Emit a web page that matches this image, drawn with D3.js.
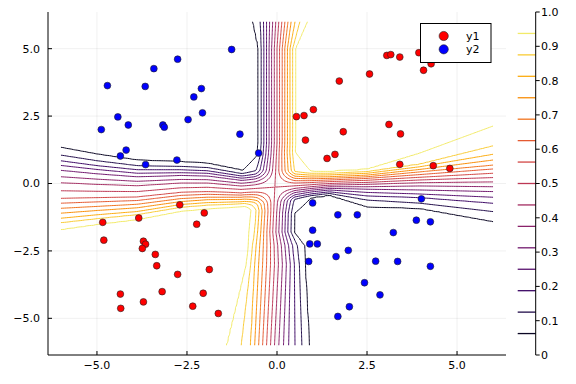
<!DOCTYPE html>
<html>
<head>
<meta charset="utf-8">
<script src="https://cdn.jsdelivr.net/npm/d3@7"></script>
<style>
  html, body { margin: 0; padding: 0; background: #fff; }
  svg { display: block; font-family: "DejaVu Sans", sans-serif; }
</style>
</head>
<body>
<svg id="chart" width="576" height="384"></svg>
<script>
// ---------------- data ----------------
const xTicks = [-5, -2.5, 0, 2.5, 5];
const yTicks = [-5, -2.5, 0, 2.5, 5];
const xTickLabels = ["\u22125.0", "\u22122.5", "0.0", "2.5", "5.0"];
const yTickLabels = ["\u22125.0", "\u22122.5", "0.0", "2.5", "5.0"];
const cbTicks = [0, 0.1, 0.2, 0.3, 0.4, 0.5, 0.6, 0.7, 0.8, 0.9, 1.0];
const cbTickLabels = ["0", "0.1", "0.2", "0.3", "0.4", "0.5", "0.6", "0.7", "0.8", "0.9", "1.0"];
const contourLevels = [1,2,3,4,5,6,7,8,9,10,11,12,13,14,15].map(k => k / 16);
const seriesNames = ["y1", "y2"];

const y1x = [3.05,3.16,3.41,3.94,4.28,4.07,2.57,1.73,1.01,0.54,0.75,3.11,0.79,1.84,3.43,1.39,1.61,3.41,4.34,4.80,
             -2.70,-4.84,-3.84,-2.02,-2.23,-4.81,-3.71,-3.65,-3.74,-3.38,-3.34,-1.88,-2.76,-3.19,-4.35,-2.05,-3.71,-4.34,-2.34,-1.63];
const y1y = [4.75,4.78,4.69,4.85,4.44,4.20,4.06,3.80,2.74,2.48,2.52,2.19,1.61,1.92,1.84,0.93,1.08,0.71,0.66,0.56,
             -0.79,-1.44,-1.28,-1.09,-1.51,-2.10,-2.14,-2.25,-2.41,-2.63,-3.05,-3.19,-3.37,-4.01,-4.10,-4.07,-4.39,-4.63,-4.55,-4.82];
const y2x = [-1.26,-2.76,-3.42,-4.71,-3.66,-2.10,-2.31,-4.42,-2.07,-2.47,-4.88,-4.13,-3.17,-3.13,-1.03,-4.19,-4.35,-0.51,-3.65,-2.78,
             0.99,4.01,1.69,2.23,3.87,4.26,0.99,3.23,0.91,1.12,1.98,1.64,0.88,2.74,3.35,4.26,2.43,2.86,2.01,1.69];
const y2y = [4.97,4.61,4.26,3.63,3.60,3.52,3.21,2.47,2.62,2.37,2.00,2.17,2.17,2.09,1.83,1.24,1.02,1.13,0.70,0.87,
             -0.72,-0.57,-1.16,-1.16,-1.36,-1.42,-1.73,-1.82,-2.24,-2.24,-2.48,-2.71,-2.89,-2.88,-2.89,-3.07,-3.68,-4.13,-4.57,-4.93];

// Contour field: positions of the 15 contour levels (k/16)
// across the vertical band (x positions, at given y) ...
const bandVY = [-6, -3, -2.3, -1.8, 1.5, 5.0, 6];
const bandVX = [
  [-1.41,-0.99,-0.73,-0.62,-0.51,-0.40,-0.29,-0.18,-0.07,0.05,0.18,0.32,0.50,0.69,0.90],
  [-0.86,-0.73,-0.62,-0.51,-0.40,-0.29,-0.18,-0.07,0.04,0.15,0.26,0.37,0.48,0.62,0.78],
  [-0.80,-0.68,-0.58,-0.48,-0.38,-0.28,-0.18,-0.08,0.02,0.12,0.22,0.32,0.43,0.56,0.76],
  [-0.79,-0.62,-0.54,-0.45,-0.37,-0.28,-0.20,-0.12,-0.03,0.05,0.14,0.22,0.30,0.39,0.47],
  [-0.51,-0.44,-0.365,-0.29,-0.22,-0.15,-0.075,0.0,0.07,0.145,0.215,0.29,0.36,0.435,0.505],
  [-0.51,-0.44,-0.365,-0.29,-0.22,-0.15,-0.075,0.0,0.07,0.145,0.215,0.29,0.36,0.435,0.505],
  [-0.67,-0.46,-0.375,-0.29,-0.205,-0.12,-0.035,0.05,0.135,0.22,0.305,0.39,0.50,0.63,0.84]
];
// width of the soft outer edge below the first / above the last level
const bandVTail = [[0.08,0.5],[0.08,0.5],[0.08,0.5],[0.08,0.5],[0.47,0.42],[0.47,0.42],[0.47,0.42]];
// ... and across the horizontal band (y positions, at given x)
const bandHX = [-6, -4.99, -3.88, -2.67, -1.93, -1.0, 1.46, 2.5, 3.96, 6];
const bandHY = [
  [-1.72,-1.45,-1.29,-1.10,-0.92,-0.73,-0.55,-0.27,0.03,0.25,0.49,0.67,0.84,1.05,1.34],
  [-1.53,-1.30,-1.16,-1.00,-0.85,-0.68,-0.53,-0.29,-0.03,0.16,0.36,0.52,0.66,0.84,1.09],
  [-1.35,-1.15,-1.04,-0.90,-0.77,-0.63,-0.50,-0.30,-0.08,0.08,0.25,0.38,0.51,0.66,0.87],
  [-1.04,-0.88,-0.78,-0.67,-0.56,-0.44,-0.33,-0.16,0.02,0.15,0.30,0.40,0.51,0.63,0.81],
  [-0.95,-0.80,-0.71,-0.60,-0.51,-0.40,-0.30,-0.14,0.02,0.14,0.28,0.38,0.47,0.59,0.75],
  [-0.87,-0.75,-0.68,-0.59,-0.51,-0.43,-0.35,-0.22,-0.09,0.01,0.12,0.20,0.28,0.37,0.50],
  [-0.43,-0.37,-0.31,-0.24,-0.18,-0.12,-0.06,0.00,0.07,0.13,0.19,0.25,0.32,0.38,0.44],
  [-0.86,-0.61,-0.46,-0.33,-0.21,-0.12,-0.03,0.04,0.12,0.19,0.25,0.31,0.38,0.44,0.52],
  [-0.92,-0.73,-0.52,-0.39,-0.24,-0.09,0.03,0.13,0.23,0.33,0.43,0.52,0.62,0.71,1.12],
  [-1.41,-1.04,-0.73,-0.51,-0.30,-0.12,0.06,0.22,0.38,0.54,0.68,0.87,1.08,1.39,2.13]
];
const bandHTail = [[0.08,0.49],[0.08,0.49],[0.08,0.49],[0.08,0.49],[0.08,0.49],[0.08,0.49],
                   [0.8,0.86],[0.8,0.86],[0.8,0.86],[0.8,0.86]];

// ---------------- layout ----------------
const svg = d3.select("#chart");
const L = 48, R = 506, T = 12, B = 355;
const xS = d3.scaleLinear().domain([-6.36, 6.36]).range([L, R]);
const yS = d3.scaleLinear().domain([-6.36, 6.36]).range([B, T]);
const cbS = d3.scaleLinear().domain([0, 1]).range([B, T]);
const color = t => d3.interpolateInferno(t);

// ---------------- field ----------------
function interpRow(v, knots, table) {
  if (v <= knots[0]) return table[0];
  if (v >= knots[knots.length - 1]) return table[table.length - 1];
  let i = 0;
  while (v > knots[i + 1]) i++;
  const t = (v - knots[i]) / (knots[i + 1] - knots[i]);
  return table[i].map((p, k) => p + t * (table[i + 1][k] - p));
}
function ramp(t, pos, tail) {
  const n = pos.length;
  let val;
  if (t <= pos[0]) val = 1 / 16 - (pos[0] - t) / tail[0] / 16;
  else if (t >= pos[n - 1]) val = n / 16 + (t - pos[n - 1]) / tail[1] / 16;
  else {
    let k = 0;
    while (t > pos[k + 1]) k++;
    val = (k + 1) / 16 + (t - pos[k]) / (pos[k + 1] - pos[k]) / 16;
  }
  return Math.max(0, Math.min(1, val));
}
function field(x, y) {
  const px = ramp(x, interpRow(y, bandVY, bandVX), interpRow(y, bandVY, bandVTail));
  const py = ramp(y, interpRow(x, bandHX, bandHY), interpRow(x, bandHX, bandHTail));
  return px * py + (1 - px) * (1 - py);
}

const step = 0.05, g0 = -6.5, n = 261;
const values = new Array(n * n);
for (let j = 0; j < n; j++) {
  for (let i = 0; i < n; i++) {
    values[j * n + i] = field(g0 + i * step, g0 + j * step);
  }
}
const contours = d3.contours().size([n, n]).thresholds(contourLevels)(values);
const proj = d3.geoTransform({
  point: function (cx, cy) {
    this.stream.point(xS(g0 + (cx - 0.5) * step), yS(g0 + (cy - 0.5) * step));
  }
});
const cpath = d3.geoPath(proj);

// ---------------- draw ----------------
svg.append("rect").attr("width", 576).attr("height", 384).attr("fill", "#fff");

// grid
const grid = svg.append("g").attr("stroke", "#000").attr("stroke-opacity", 0.1).attr("stroke-width", 0.6);
xTicks.forEach(v => grid.append("line").attr("x1", xS(v)).attr("x2", xS(v)).attr("y1", T).attr("y2", B));
yTicks.forEach(v => grid.append("line").attr("y1", yS(v)).attr("y2", yS(v)).attr("x1", L).attr("x2", R));

// contours
svg.append("clipPath").attr("id", "clipc").append("rect")
  .attr("x", xS(-6)).attr("y", yS(6)).attr("width", xS(6) - xS(-6)).attr("height", yS(-6) - yS(6));
svg.append("g").attr("clip-path", "url(#clipc)")
  .selectAll("path").data(contours).join("path")
  .attr("d", cpath)
  .attr("fill", "none")
  .attr("stroke", d => color(d.value))
  .attr("stroke-width", 1)
  .attr("stroke-linejoin", "round");

// axes
const ax = svg.append("g").attr("stroke", "#000").attr("stroke-width", 1);
ax.append("line").attr("x1", L).attr("x2", L).attr("y1", T).attr("y2", B);
ax.append("line").attr("x1", L).attr("x2", R).attr("y1", B).attr("y2", B);
xTicks.forEach(v => ax.append("line").attr("x1", xS(v)).attr("x2", xS(v)).attr("y1", B).attr("y2", B - 4));
yTicks.forEach(v => ax.append("line").attr("y1", yS(v)).attr("y2", yS(v)).attr("x1", L).attr("x2", L + 4));

const tl = svg.append("g").attr("font-size", 11).attr("fill", "#000");
xTicks.forEach((v, i) => tl.append("text").attr("x", xS(v)).attr("y", 369).attr("text-anchor", "middle").text(xTickLabels[i]));
yTicks.forEach((v, i) => tl.append("text").attr("x", 40).attr("y", yS(v)).attr("dy", "0.36em").attr("text-anchor", "end").text(yTickLabels[i]));

// scatter
const sc = svg.append("g");
sc.selectAll("circle.y1").data(y1x.map((x, i) => [x, y1y[i]])).join("circle")
  .attr("cx", d => xS(d[0])).attr("cy", d => yS(d[1])).attr("r", 3.4)
  .attr("fill", "#ff0000").attr("stroke", "#222").attr("stroke-width", 0.6);
sc.selectAll("circle.y2").data(y2x.map((x, i) => [x, y2y[i]])).join("circle")
  .attr("cx", d => xS(d[0])).attr("cy", d => yS(d[1])).attr("r", 3.4)
  .attr("fill", "#0000ff").attr("stroke", "#222").attr("stroke-width", 0.6);

// colorbar
const cb = svg.append("g");
const cbX = 535.7;
contourLevels.forEach(v => cb.append("line").attr("x1", 517.7).attr("x2", cbX).attr("y1", cbS(v)).attr("y2", cbS(v))
  .attr("stroke", color(v)).attr("stroke-width", 1.3));
cb.append("line").attr("x1", cbX).attr("x2", cbX).attr("y1", T).attr("y2", B).attr("stroke", "#000");
cbTicks.forEach((v, i) => {
  cb.append("line").attr("x1", cbX).attr("x2", cbX + 4).attr("y1", cbS(v)).attr("y2", cbS(v)).attr("stroke", "#000");
  cb.append("text").attr("x", 541).attr("y", cbS(v)).attr("dy", "0.36em").attr("font-size", 11).text(cbTickLabels[i]);
});

// legend
const lg = svg.append("g");
lg.append("rect").attr("x", 420.5).attr("y", 23.5).attr("width", 70.5).attr("height", 39)
  .attr("fill", "#fff").attr("stroke", "#000").attr("stroke-width", 1);
const legColors = ["#ff0000", "#0000ff"];
seriesNames.forEach((s, i) => {
  const yy = 36 + i * 13.3;
  lg.append("circle").attr("cx", 443.7).attr("cy", yy).attr("r", 4.6)
    .attr("fill", legColors[i]).attr("stroke", "#222").attr("stroke-width", 0.6);
  lg.append("text").attr("x", 466).attr("y", yy).attr("dy", "0.36em").attr("font-size", 11).text(s);
});
</script>
</body>
</html>
